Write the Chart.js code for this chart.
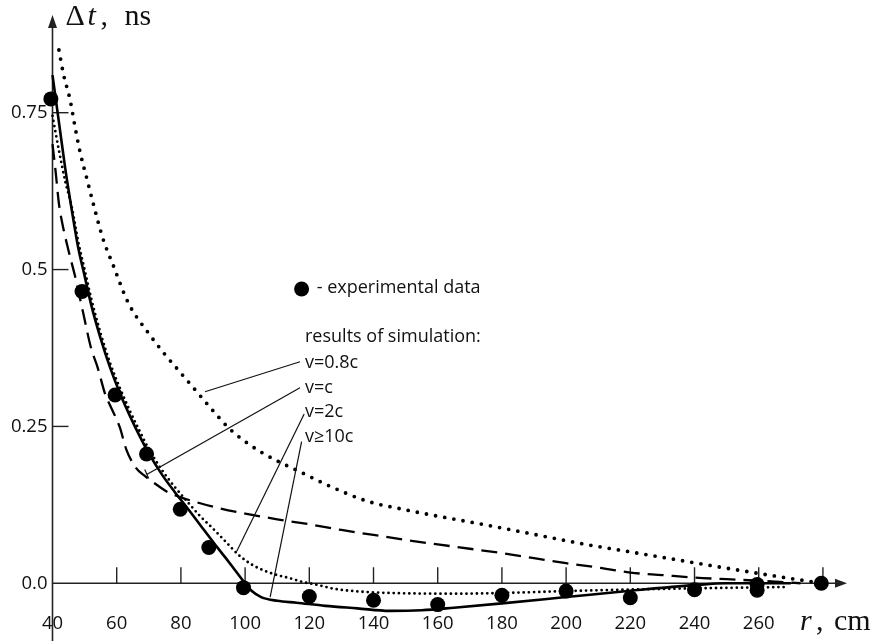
<!DOCTYPE html>
<html><head><meta charset="utf-8">
<script src="https://cdn.jsdelivr.net/npm/chart.js@4/dist/chart.umd.min.js"></script>
<style>html,body{margin:0;padding:0;background:#fff;overflow:hidden}</style>
</head><body>
<canvas id="c" width="876" height="641"></canvas>
<script>
// ---- data ----
const expR  = [39.5, 49.2, 59.5, 69.3, 79.8, 88.7, 99.5, 120, 140, 160, 180, 200, 220, 240, 259.5, 259.5, 279.5];
const expDt = [0.772, 0.465, 0.300, 0.206, 0.118, 0.057, -0.007, -0.021, -0.027, -0.034, -0.019, -0.0125, -0.023, -0.0103, -0.002, -0.011, 0.0];

const v08cR  = [42, 43.4, 45.5, 47, 48.6, 50.7, 52.7, 55.8, 58.9, 63.6, 70, 75, 80, 85, 90, 95, 100, 105, 110, 117, 125, 138, 150, 160, 175, 190, 205, 220, 235, 250, 262, 272, 280];
const v08cDt = [0.85, 0.812, 0.77, 0.728, 0.687, 0.645, 0.605, 0.548, 0.507, 0.447, 0.398, 0.365, 0.335, 0.305, 0.275, 0.247, 0.226, 0.209, 0.195, 0.178, 0.158, 0.131, 0.117, 0.107, 0.093, 0.078, 0.063, 0.05, 0.037, 0.024, 0.014, 0.006, 0.0];

const vcR  = [40, 41, 42, 43, 45, 47, 49.6, 52, 54, 56.5, 58, 61, 63, 66, 69, 73, 76, 80, 85, 90, 100, 110, 120, 130, 140, 150, 160, 170, 180, 190, 200, 210, 220, 230, 240, 250, 260, 273];
const vcDt = [0.70, 0.655, 0.605, 0.575, 0.53, 0.49, 0.43, 0.375, 0.345, 0.30, 0.283, 0.248, 0.213, 0.184, 0.170, 0.155, 0.145, 0.137, 0.129, 0.122, 0.111, 0.102, 0.094, 0.085, 0.077, 0.069, 0.062, 0.055, 0.048, 0.040, 0.032, 0.025, 0.017, 0.013, 0.009, 0.0065, 0.004, 0.0];

const v2cR  = [40, 42, 44, 46, 48, 50, 52, 55, 58, 61, 64, 67, 70, 74, 78, 82, 86, 90, 94, 98, 102, 106, 110, 114, 118, 122, 128, 138, 150, 165, 180, 200, 230, 268];
const v2cDt = [0.745, 0.69, 0.64, 0.60, 0.545, 0.50, 0.455, 0.398, 0.350, 0.311, 0.276, 0.244, 0.214, 0.181, 0.154, 0.130, 0.107, 0.087, 0.066, 0.045, 0.030, 0.020, 0.013, 0.008, 0.002, -0.002, -0.009, -0.014, -0.016, -0.0166, -0.0156, -0.0125, -0.009, -0.006];

const v10cR  = [40, 42, 44, 46, 48, 50, 52, 55, 58, 61, 64, 67, 70, 74, 78, 82, 86, 90, 94, 97, 100, 102, 105, 110, 116, 125, 135, 145, 155, 165, 180, 200, 220, 240, 250, 270];
const v10cDt = [0.81, 0.735, 0.66, 0.595, 0.535, 0.49, 0.445, 0.39, 0.343, 0.303, 0.268, 0.236, 0.207, 0.174, 0.146, 0.120, 0.093, 0.066, 0.040, 0.020, 0.0, -0.012, -0.022, -0.028, -0.031, -0.036, -0.040, -0.044, -0.043, -0.039, -0.032, -0.022, -0.012, -0.003, 0.0, 0.0];

const xTicks = [40, 60, 80, 100, 120, 140, 160, 180, 200, 220, 240, 260, 280];
const xTickLabels = ['40', '60', '80', '100', '120', '140', '160', '180', '200', '220', '240', '260', ''];
const yTicks = [0, 0.25, 0.5, 0.75];
const yTickLabels = ['0.0', '0.25', '0.5', '0.75'];

const pts = (xs, ys) => xs.map((x, i) => ({ x: x, y: ys[i] }));

const TXT = '#111';
const SANS = '"Open Sans", "Noto Sans", sans-serif';
const SERIF = '"Liberation Serif", "DejaVu Serif", serif';

const notes = [
  { t: '- experimental data', x: 122.3, y: 0.4703 },
  { t: 'results of simulation:', x: 118.66, y: 0.3922 },
  { t: 'v=0.8c', x: 118.66, y: 0.3506 },
  { t: 'v=c', x: 118.66, y: 0.3116 },
  { t: 'v=2c', x: 118.66, y: 0.2725 },
  { t: 'v\u226510c', x: 118.66, y: 0.2334 }
];
const leaders = [
  [117.1, 0.3531, 87.5, 0.3053],
  [117.1, 0.3116, 69.35, 0.1734],
  [118.4, 0.2698, 97.4, 0.0511],
  [117.6, 0.2256, 107.8, -0.0219]
];

const axesPlugin = {
  id: 'axes',
  beforeDatasetsDraw(chart) {
    const { ctx, chartArea: a, scales: { x, y } } = chart;
    const x0 = x.getPixelForValue(40), y0 = y.getPixelForValue(0);
    ctx.save();
    ctx.strokeStyle = '#222'; ctx.fillStyle = '#222'; ctx.lineWidth = 1.6;
    ctx.beginPath(); ctx.moveTo(x0, chart.height); ctx.lineTo(x0, a.top + 8); ctx.stroke();
    ctx.beginPath(); ctx.moveTo(x0, a.top - 1); ctx.lineTo(x0 - 4.5, a.top + 12); ctx.lineTo(x0 + 4.5, a.top + 12); ctx.closePath(); ctx.fill();
    ctx.beginPath(); ctx.moveTo(x0, y0); ctx.lineTo(a.right - 8, y0); ctx.stroke();
    ctx.beginPath(); ctx.moveTo(a.right, y0); ctx.lineTo(a.right - 12, y0 - 4.5); ctx.lineTo(a.right - 12, y0 + 4.5); ctx.closePath(); ctx.fill();
    ctx.lineWidth = 1.4;
    xTicks.forEach(v => { if (v === 40) return; const px = x.getPixelForValue(v); ctx.beginPath(); ctx.moveTo(px, y0); ctx.lineTo(px, y0 - 16); ctx.stroke(); });
    yTicks.forEach(v => { if (v === 0) return; const py = y.getPixelForValue(v); ctx.beginPath(); ctx.moveTo(x0, py); ctx.lineTo(x0 + 16, py); ctx.stroke(); });
    ctx.restore();
  },
  afterDraw(chart) {
    const { ctx, chartArea: a, scales: { x, y } } = chart;
    ctx.save();
    ctx.fillStyle = TXT; ctx.textBaseline = 'middle'; ctx.textAlign = 'left';
    ctx.font = '18px ' + SANS;
    notes.forEach(n => ctx.fillText(n.t, x.getPixelForValue(n.x), y.getPixelForValue(n.y)));
    ctx.fillStyle = '#000';
    ctx.beginPath(); ctx.arc(x.getPixelForValue(117.6), y.getPixelForValue(0.469), 7.5, 0, Math.PI * 2); ctx.fill();
    ctx.strokeStyle = '#111'; ctx.lineWidth = 1.2;
    leaders.forEach(l => {
      ctx.beginPath(); ctx.moveTo(x.getPixelForValue(l[0]), y.getPixelForValue(l[1]));
      ctx.lineTo(x.getPixelForValue(l[2]), y.getPixelForValue(l[3])); ctx.stroke();
    });
    const ex = x.getPixelForValue(leaders[1][2]), ey = y.getPixelForValue(leaders[1][3]);
    ctx.beginPath(); ctx.moveTo(ex - 2, ey - 5); ctx.lineTo(ex + 2, ey + 4); ctx.stroke();
    const x0 = x.getPixelForValue(40);
    ctx.fillStyle = TXT; ctx.textBaseline = 'alphabetic';
    ctx.font = '30px ' + SERIF; ctx.fillText('\u0394', x0 + 13, 25);
    ctx.font = 'italic 30px ' + SERIF; ctx.fillText('t', x0 + 35, 25);
    ctx.font = '30px ' + SERIF; ctx.fillText(',', x0 + 48, 25); ctx.fillText('ns', x0 + 72, 25);
    const xr = x.getPixelForValue(280);
    const by = a.bottom + 18.5;
    ctx.font = 'italic 30px ' + SERIF; ctx.fillText('r', xr - 23, by);
    ctx.font = '30px ' + SERIF; ctx.fillText(',', xr - 7, by); ctx.fillText('cm', xr + 11, by);
    ctx.restore();
  }
};

const base = { borderColor: '#000', backgroundColor: '#000', pointRadius: 0, fill: false, cubicInterpolationMode: 'monotone', clip: false };

new Chart(document.getElementById('c'), {
  type: 'line',
  data: {
    datasets: [
      Object.assign({}, base, { label: 'v=0.8c', data: pts(v08cR, v08cDt), borderWidth: 3.8, borderDash: [0, 9.3], borderCapStyle: 'round' }),
      Object.assign({}, base, { label: 'v=c', data: pts(vcR, vcDt), borderWidth: 2.3, borderDash: [16, 8], borderCapStyle: 'butt' }),
      Object.assign({}, base, { label: 'v=2c', data: pts(v2cR, v2cDt), borderWidth: 2.8, borderDash: [0, 5.2], borderCapStyle: 'round' }),
      Object.assign({}, base, { label: 'v\u226510c', data: pts(v10cR, v10cDt), borderWidth: 2.6 }),
      { label: 'experimental data', data: pts(expR, expDt), showLine: false, pointRadius: 7.5, pointBackgroundColor: '#000', pointBorderColor: '#000', pointBorderWidth: 0, clip: false }
    ]
  },
  options: {
    responsive: false, animation: false,
    layout: { padding: { left: 0, right: 29, top: 4, bottom: 0 } },
    plugins: { legend: { display: false }, tooltip: { enabled: false } },
    scales: {
      x: {
        type: 'linear', min: 40, max: 287.5,
        grid: { display: false, drawTicks: false }, border: { display: false },
        afterBuildTicks: s => { s.ticks = xTicks.map(v => ({ value: v })); },
        afterFit: s => { s.height = 29.5; },
        ticks: { padding: 1, maxRotation: 0, autoSkip: false, color: TXT, font: { family: SANS, size: 18.5 },
                 callback: (v, i) => xTickLabels[i] }
      },
      y: {
        type: 'linear', min: -0.045, max: 0.904,
        grid: { display: false, drawTicks: false }, border: { display: false },
        afterBuildTicks: s => { s.ticks = yTicks.map(v => ({ value: v })); },
        afterFit: s => { s.width = 52.5; },
        ticks: { padding: 5, color: TXT, font: { family: SANS, size: 18.5 },
                 callback: (v, i) => yTickLabels[i] }
      }
    }
  },
  plugins: [axesPlugin]
});
</script>
</body></html>
